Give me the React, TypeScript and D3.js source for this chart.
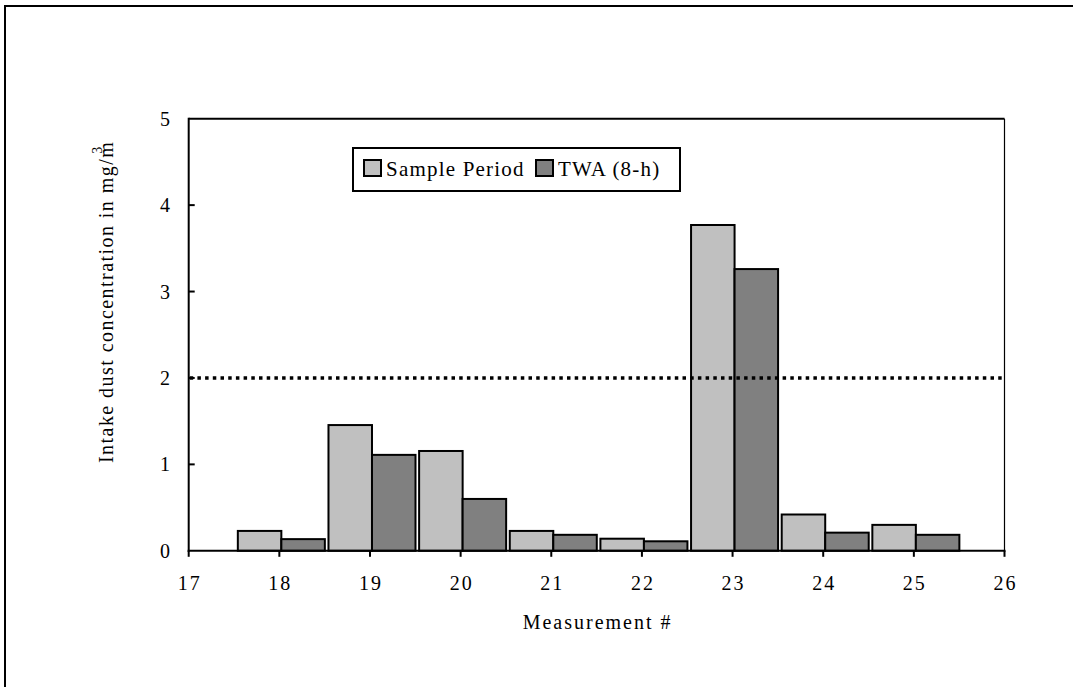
import React from "react";
import * as d3 from "d3";

const measurements = [18, 19, 20, 21, 22, 23, 24, 25];
const samplePeriod = [0.23, 1.455, 1.155, 0.23, 0.14, 3.77, 0.42, 0.3];
const twa8h = [0.135, 1.11, 0.6, 0.185, 0.11, 3.26, 0.21, 0.185];
const xTicks = [17, 18, 19, 20, 21, 22, 23, 24, 25, 26];
const yTicks = [0, 1, 2, 3, 4, 5];
const limitValue = 2;
const seriesNames = ["Sample Period", "TWA (8-h)"];

const FONT = "'Liberation Serif', 'Times New Roman', serif";

export default function App() {
  const left = 188.7, right = 1004.5, top = 118.7, bottom = 550.8;
  const x = d3.scaleLinear().domain([17, 26]).range([left, right]);
  const y = d3.scaleLinear().domain([0, 5]).range([bottom, top]);
  const barW = 0.48;
  const shift = 2;
  const colors = ["#C0C0C0", "#808080"];

  return (
    <svg
      width={1073}
      height={687}
      style={{ position: "absolute", left: 0, top: 0, background: "#fff" }}
    >
      <rect x={5} y={6} width={1100} height={700} fill="#fff" stroke="#000" strokeWidth={2} />

      {/* bars */}
      {measurements.map((m, i) => {
        const x0 = x(m - barW) + shift;
        const x1 = x(m) + shift;
        const x2 = x(m + barW) + shift;
        return (
          <g key={m}>
            <rect x={x0} y={y(samplePeriod[i])} width={x1 - x0} height={y(0) - y(samplePeriod[i])}
              fill={colors[0]} stroke="#000" strokeWidth={2} />
            <rect x={x1} y={y(twa8h[i])} width={x2 - x1} height={y(0) - y(twa8h[i])}
              fill={colors[1]} stroke="#000" strokeWidth={2} />
          </g>
        );
      })}

      {/* limit line */}
      <line x1={left + 1} x2={right} y1={y(limitValue)} y2={y(limitValue)}
        stroke="#000" strokeWidth={3.5} strokeDasharray="3.5 4.2" />

      {/* plot frame */}
      <line x1={left} x2={right} y1={top} y2={top} stroke="#000" strokeWidth={2} />
      <line x1={right} x2={right} y1={top} y2={bottom} stroke="#000" strokeWidth={1.2} />
      <line x1={left} x2={left} y1={top - 1} y2={bottom + 1} stroke="#000" strokeWidth={2} />
      <line x1={left - 1} x2={right + 1} y1={bottom} y2={bottom} stroke="#000" strokeWidth={2} />

      {/* x ticks */}
      {xTicks.map((t) => (
        <g key={t}>
          <line x1={x(t)} x2={x(t)} y1={bottom} y2={bottom + 6} stroke="#000" strokeWidth={2} />
          <text x={x(t) + 1} y={589.5} textAnchor="middle" fontFamily={FONT} fontSize={20}
            letterSpacing={2}>{t}</text>
        </g>
      ))}

      {/* y ticks */}
      {yTicks.map((t) => (
        <g key={t}>
          {t > 0 && t < 5 && (
            <line x1={left} x2={left + 6} y1={y(t)} y2={y(t)} stroke="#000" strokeWidth={2} />
          )}
          <text x={170} y={y(t)} textAnchor="end" dominantBaseline="central" fontFamily={FONT}
            fontSize={20}>{t}</text>
        </g>
      ))}

      {/* axis titles */}
      <text x={(left + right) / 2 + 1} y={629} textAnchor="middle" fontFamily={FONT} fontSize={20}
        letterSpacing={2}>Measurement #</text>
      <text transform="translate(113,463) rotate(-90)" fontFamily={FONT} fontSize={20} letterSpacing={1.45}>
        Intake dust concentration in mg/m
        <tspan dx={-13} dy={-11} fontSize={14} letterSpacing={0}>3</tspan>
      </text>

      {/* legend */}
      <rect x={353} y={148} width={327} height={43} fill="#fff" stroke="#000" strokeWidth={2} />
      {seriesNames.map((name, i) => {
        const sx = i === 0 ? 364 : 536;
        return (
          <g key={name}>
            <rect x={sx} y={160} width={17} height={16} fill={colors[i]} stroke="#000" strokeWidth={2} />
            <text x={sx + 22} y={176} fontFamily={FONT} fontSize={21} letterSpacing={1.2}>{name}</text>
          </g>
        );
      })}
    </svg>
  );
}
